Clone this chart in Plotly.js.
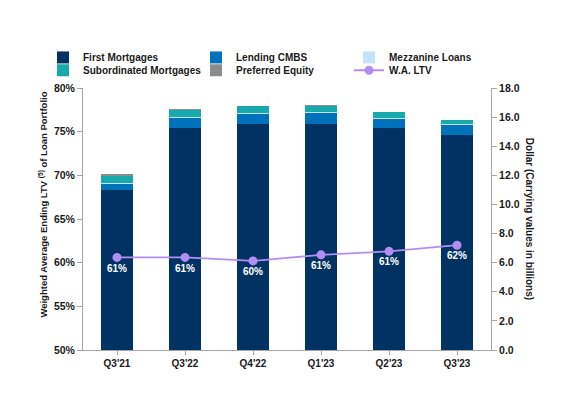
<!DOCTYPE html>
<html>
<head>
<meta charset="utf-8">
<script src="https://cdn.plot.ly/plotly-3.0.1.min.js"></script>
<style>html,body{margin:0;padding:0;background:#fff;}#chart{width:586px;height:414px;}</style>
</head>
<body>
<div id="chart"></div>
<script>
const quarters = ["Q3'21", "Q3'22", "Q4'22", "Q1'23", "Q2'23", "Q3'23"];
const firstMortgages = [11.0, 15.25, 15.5, 15.55, 15.23, 14.79];
const lendingCMBS = [0.41, 0.69, 0.70, 0.71, 0.66, 0.65];
const mezzanineLoans = [0.07, 0.07, 0.07, 0.07, 0.04, 0.07];
const subordinatedMortgages = [0.50, 0.50, 0.48, 0.46, 0.41, 0.28];
const preferredEquity = [0.09, 0.07, 0.0, 0.05, 0.0, 0.0];
const waLTV = [0.606, 0.606, 0.602, 0.609, 0.613, 0.620];

const FONT = "Liberation Sans, Arial, sans-serif";
const TXT = '#1a1a1a';
const AX = '#a6a6a6';

function barTrace(name, y, color, legend) {
  return {type: 'bar', name: name, x: quarters, y: y, yaxis: 'y', legend: legend,
          marker: {color: color}, hoverinfo: 'skip'};
}

const traces = [
  barTrace('First Mortgages', firstMortgages, '#003263', 'legend'),
  barTrace('Lending CMBS', lendingCMBS, '#0072bc', 'legend'),
  barTrace('Mezzanine Loans', mezzanineLoans, '#c4e2f8', 'legend'),
  barTrace('Subordinated Mortgages', subordinatedMortgages, '#18a9ab', 'legend2'),
  barTrace('Preferred Equity', preferredEquity, '#8c8c8c', 'legend2'),
  {type: 'scatter', mode: 'lines+markers+text', name: 'W.A. LTV', x: quarters, y: waLTV,
   yaxis: 'y2', legend: 'legend2',
   line: {color: '#b28ef2', width: 1.8}, marker: {color: '#b28ef2', size: 9},
   texttemplate: '%{y:.0%}', textposition: 'bottom center',
   textfont: {color: '#ffffff', size: 10, family: FONT, weight: 'bold'}}
];

const legendFont = {family: FONT, size: 10, color: TXT, weight: 'bold'};
const axisFont = {family: FONT, size: 10.5, color: TXT, weight: 'bold'};

const layout = {
  width: 586, height: 414,
  margin: {l: 83, r: 95, t: 88, b: 64},
  paper_bgcolor: '#ffffff', plot_bgcolor: '#ffffff',
  barmode: 'stack', bargap: 0.515,
  font: {family: FONT, color: TXT, size: 10, weight: 'bold'},
  showlegend: true,
  legend: {orientation: 'h', x: -0.098, xanchor: 'left', y: 1.172, yanchor: 'top',
           traceorder: 'normal', entrywidth: 108, entrywidthmode: 'pixels',
           font: legendFont, bgcolor: 'rgba(0,0,0,0)'},
  legend2: {orientation: 'h', x: -0.098, xanchor: 'left', y: 1.123, yanchor: 'top',
            traceorder: 'normal', entrywidth: 108, entrywidthmode: 'pixels',
            font: legendFont, bgcolor: 'rgba(0,0,0,0)'},
  xaxis: {type: 'category', showline: true, linecolor: AX, linewidth: 1,
          ticks: 'outside', ticklen: 4, tickcolor: AX, showgrid: false, zeroline: false,
          tickfont: {family: FONT, size: 10, color: TXT, weight: 'bold'}},
  yaxis: {range: [0, 18], dtick: 2, tickformat: '.1f', side: 'right',
          showline: true, linecolor: AX, linewidth: 1, ticks: 'outside', ticklen: 5,
          tickcolor: AX, showgrid: false, zeroline: false, tickfont: axisFont},
  yaxis2: {range: [0.5, 0.8], dtick: 0.05, tickformat: '.0%', overlaying: 'y', side: 'left',
           showline: true, linecolor: AX, linewidth: 1, ticks: 'outside', ticklen: 5,
           tickcolor: AX, showgrid: false, zeroline: false, tickfont: axisFont},
  annotations: [
    {xref: 'paper', yref: 'paper', x: -0.098, y: 0.555, xanchor: 'center', yanchor: 'middle',
     textangle: -90, showarrow: false,
     text: 'Weighted Average Ending LTV <sup>(5)</sup> of Loan Portfolio',
     font: {family: FONT, size: 9.5, color: TXT, weight: 'bold'}},
    {xref: 'paper', yref: 'paper', x: 1.096, y: 0.5, xanchor: 'center', yanchor: 'middle',
     textangle: 90, showarrow: false,
     text: 'Dollar (Carrying values in billions)',
     font: {family: FONT, size: 10, color: TXT, weight: 'bold'}}
  ]
};

Plotly.newPlot('chart', traces, layout, {displayModeBar: false, staticPlot: true});
</script>
</body>
</html>
